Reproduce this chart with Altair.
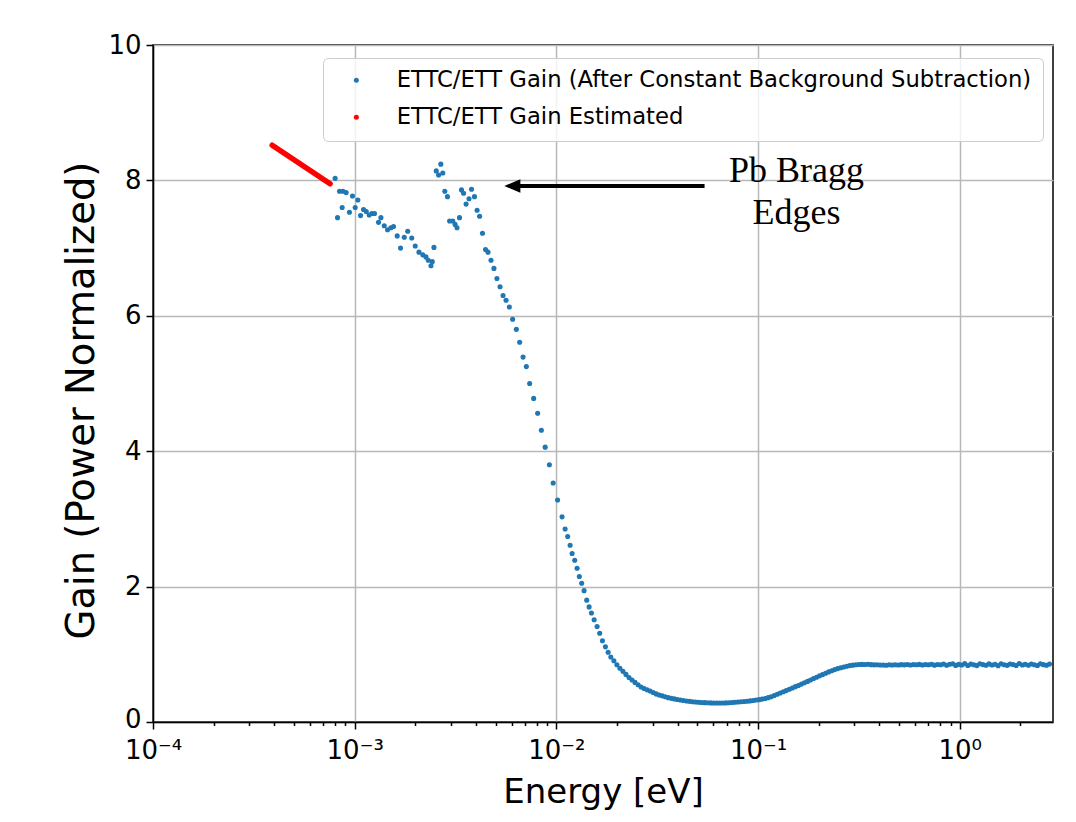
import altair as alt
import pandas as pd

# ---- measured series: ETTC/ETT gain after constant background subtraction ----
energy_ev = [
    8.00e-4, 8.22e-4, 8.41e-4, 8.67e-4, 8.74e-4, 9.07e-4, 9.42e-4, 9.75e-4, 1.006e-3, 1.037e-3,
    1.069e-3, 1.106e-3, 1.141e-3, 1.180e-3, 1.217e-3, 1.254e-3, 1.313e-3, 1.349e-3, 1.401e-3, 1.455e-3,
    1.512e-3, 1.558e-3, 1.625e-3, 1.688e-3, 1.761e-3, 1.832e-3, 1.918e-3, 1.996e-3, 2.083e-3, 2.175e-3,
    2.256e-3, 2.317e-3, 2.389e-3, 2.425e-3, 2.472e-3, 2.538e-3, 2.606e-3, 2.673e-3, 2.734e-3, 2.798e-3,
    2.884e-3, 2.955e-3, 3.065e-3, 3.147e-3, 3.216e-3, 3.309e-3, 3.385e-3, 3.467e-3, 3.568e-3, 3.688e-3,
    3.796e-3, 3.926e-3, 4.045e-3, 4.163e-3, 4.302e-3, 4.453e-3, 4.582e-3, 4.742e-3, 4.902e-3, 5.073e-3,
    5.256e-3, 5.440e-3, 5.630e-3, 5.846e-3, 6.070e-3, 6.332e-3, 6.576e-3, 6.836e-3, 7.099e-3, 7.371e-3,
    7.716e-3, 8.076e-3, 8.426e-3, 8.800e-3, 9.233e-3, 9.641e-3, 1.014e-2, 1.067e-2, 1.105e-2, 1.138e-2,
    1.170e-2, 1.197e-2, 1.233e-2, 1.267e-2, 1.300e-2, 1.335e-2, 1.372e-2, 1.414e-2, 1.453e-2, 1.492e-2,
    1.539e-2, 1.592e-2, 1.640e-2, 1.692e-2, 1.751e-2, 1.806e-2,
    0.01862, 0.01928, 0.01995, 0.02065, 0.02138, 0.02213, 0.02291, 0.02371, 0.02455, 0.02541,
    0.02630, 0.02723, 0.02818, 0.02917, 0.03020, 0.03126, 0.03236, 0.03350, 0.03467, 0.03589,
    0.03715, 0.03846, 0.03981, 0.04121, 0.04266, 0.04416, 0.04571, 0.04732, 0.04898, 0.05070,
    0.05248, 0.05433, 0.05623, 0.05821, 0.06026, 0.06237, 0.06457, 0.06683, 0.06918, 0.07161,
    0.07413, 0.07674, 0.07943, 0.08222, 0.08511, 0.08811, 0.09120, 0.09441, 0.09772, 0.1012,
    0.1047, 0.1084, 0.1122, 0.1161, 0.1202, 0.1245, 0.1288, 0.1334, 0.1380, 0.1429,
    0.1479, 0.1531, 0.1585, 0.1641, 0.1698, 0.1758, 0.1820, 0.1884, 0.1950, 0.2018,
    0.2089, 0.2163, 0.2239, 0.2317, 0.2399, 0.2483, 0.2570, 0.2661, 0.2754, 0.2851,
    0.2951, 0.3055, 0.3162, 0.3273, 0.3388, 0.3508, 0.3631, 0.3758, 0.3890, 0.4027,
    0.4169, 0.4315, 0.4467, 0.4624, 0.4786, 0.4955, 0.5129, 0.5309, 0.5495, 0.5689,
    0.5888, 0.6095, 0.6310, 0.6531, 0.6761, 0.6998, 0.7244, 0.7499, 0.7762, 0.8035,
    0.8318, 0.8610, 0.8913, 0.9226, 0.9550, 0.9886, 1.023, 1.059, 1.097, 1.135,
    1.175, 1.216, 1.259, 1.303, 1.349, 1.396, 1.445, 1.496, 1.549, 1.603,
    1.660, 1.718, 1.778, 1.841, 1.905, 1.972, 2.042, 2.113, 2.188, 2.265,
    2.344, 2.427, 2.512, 2.600, 2.692, 2.786,
]
gain_after_bg = [
    8.03, 7.45, 7.84, 7.60, 7.84, 7.82, 7.53, 7.77, 7.60, 7.71,
    7.48, 7.57, 7.54, 7.49, 7.51, 7.51, 7.38, 7.45, 7.33, 7.27,
    7.30, 7.32, 7.18, 7.00, 7.16, 7.25, 7.15, 7.03, 6.94, 6.90,
    6.87, 6.82, 6.74, 6.80, 7.01, 8.14, 8.08, 8.24, 8.11, 7.84,
    7.76, 7.40, 7.40, 7.35, 7.30, 7.45, 7.86, 7.81, 7.65, 7.73,
    7.87, 7.76, 7.56, 7.47, 7.22, 6.98, 6.94, 6.82, 6.70, 6.55,
    6.43, 6.30, 6.23, 6.13, 5.95, 5.80, 5.61, 5.39, 5.25, 5.00,
    4.78, 4.56, 4.31, 4.06, 3.80, 3.53, 3.28, 3.03, 2.85, 2.74,
    2.61, 2.49, 2.39, 2.27, 2.15, 2.05, 1.94, 1.80, 1.70, 1.61,
    1.51, 1.41, 1.31, 1.20, 1.11, 1.03,
    0.960, 0.905, 0.846, 0.793, 0.748, 0.703, 0.658, 0.620, 0.585, 0.551,
    0.517, 0.495, 0.475, 0.457, 0.435, 0.415, 0.398, 0.386, 0.373, 0.360,
    0.349, 0.341, 0.333, 0.325, 0.317, 0.311, 0.305, 0.300, 0.296, 0.292,
    0.289, 0.286, 0.284, 0.282, 0.281, 0.280, 0.280, 0.281, 0.282, 0.285,
    0.288, 0.291, 0.295, 0.299, 0.303, 0.307, 0.312, 0.318, 0.324, 0.330,
    0.338, 0.347, 0.360, 0.373, 0.391, 0.410, 0.428, 0.446, 0.464, 0.484,
    0.503, 0.522, 0.540, 0.560, 0.580, 0.600, 0.621, 0.643, 0.662, 0.682,
    0.700, 0.720, 0.740, 0.757, 0.774, 0.789, 0.801, 0.813, 0.824, 0.833,
    0.840, 0.845, 0.849, 0.851, 0.850, 0.852, 0.847, 0.844, 0.846, 0.841,
    0.843, 0.839, 0.845, 0.842, 0.846, 0.841, 0.847, 0.844, 0.849, 0.843,
    0.848, 0.845, 0.851, 0.842, 0.849, 0.846, 0.853, 0.840, 0.850, 0.845,
    0.856, 0.838, 0.852, 0.860, 0.836, 0.851, 0.843, 0.862, 0.835, 0.855,
    0.846, 0.833, 0.861, 0.848, 0.838, 0.858, 0.842, 0.853, 0.832, 0.860,
    0.845, 0.837, 0.856, 0.849, 0.835, 0.863, 0.843, 0.852, 0.838, 0.857,
    0.846, 0.834, 0.860, 0.847, 0.839, 0.855,
]

# ---- estimated gain (red) ----
est_energy_ev = [3.90e-4, 7.55e-4]
est_gain = [8.52, 7.95]

# ---- annotation ----
ann_lines = ["Pb Bragg", "Edges"]
ann_energy = [0.1552, 0.1552]
ann_gain = [7.98, 7.35]
arrow_energy = [6.05e-3, 0.0543]
arrow_gain = [7.917, 7.917]

series_names = ["ETTC/ETT Gain (After Constant Background Subtraction)", "ETTC/ETT Gain Estimated"]
series_colors = ["#1f77b4", "#ff0000"]

decades = [1e-4, 1e-3, 1e-2, 1e-1, 1.0]
minor_mult = [2, 3, 4, 5, 6, 7, 8, 9]
x_ticks = sorted(decades + [d * m for d in decades for m in minor_mult if d * m <= 2.9])
y_ticks = [0, 2, 4, 6, 8, 10]

FONT = "DejaVu Sans"
is_decade = "abs(log(datum.value)/LN10 - round(log(datum.value)/LN10)) < 0.001"
exp_ = "round(log(datum.value)/LN10)"
label_expr = (
    f"!({is_decade}) ? '' : {exp_} == -4 ? '10⁻⁴' : {exp_} == -3 ? '10⁻³' : "
    f"{exp_} == -2 ? '10⁻²' : {exp_} == -1 ? '10⁻¹' : '10⁰'"
)

df = pd.DataFrame({"energy": energy_ev, "gain": gain_after_bg, "series": series_names[0]})
df_est = pd.DataFrame({"energy": est_energy_ev, "gain": est_gain})
df_ann = pd.DataFrame({"energy": ann_energy, "gain": ann_gain, "text": ann_lines})
df_arrow = pd.DataFrame({"energy": arrow_energy, "gain": arrow_gain})

x_scale = alt.Scale(type="log", domain=[1e-4, 2.9], nice=False)
y_scale = alt.Scale(domain=[0, 10], nice=False)

x_axis = alt.Axis(
    values=x_ticks, labelExpr=label_expr, title="Energy [eV]",
    titleFontSize=34, titleFont=FONT, titleFontWeight="normal", titleColor="black",
    labelFontSize=26, labelFont=FONT, labelColor="black", labelFlush=False, labelOverlap=False,
    labelPadding=8,
    tickColor="black", tickWidth=1.5,
    tickSize={"condition": {"test": is_decade, "value": 7}, "value": 3.5},
    gridOpacity={"condition": {"test": is_decade, "value": 1}, "value": 0},
    gridColor="#b8b8b8", gridWidth=1.5,
    domainColor="black", domainWidth=1.5,
    titleY=80, titleBaseline="alphabetic",
)
y_axis = alt.Axis(
    values=y_ticks, format="d", title="Gain (Power Normalized)",
    titleFontSize=38.5, titleFont=FONT, titleFontWeight="normal", titleColor="black",
    labelFontSize=26, labelFont=FONT, labelColor="black", labelFlush=False,
    labelOffset={"condition": {"test": "datum.value == 0", "value": -3}, "value": 0},
    tickColor="black", tickWidth=1.5, tickSize=7, labelPadding=5,
    gridColor="#b8b8b8", gridWidth=1.5,
    domainColor="black", domainWidth=1.5,
    titleX=-72, titleY=355, titleAngle=270, titleAlign="center", titleBaseline="middle",
)

points = alt.Chart(df).mark_point(filled=True, size=26, opacity=1, strokeWidth=0).encode(
    x=alt.X("energy:Q", scale=x_scale, axis=x_axis),
    y=alt.Y("gain:Q", scale=y_scale, axis=y_axis),
    color=alt.Color(
        "series:N",
        scale=alt.Scale(domain=series_names, range=series_colors),
        legend=alt.Legend(
            orient="none", legendX=170, legendY=13, title=None,
            labelFontSize=22.7, labelFont=FONT, labelColor="black", labelLimit=1000,
            symbolType="circle", symbolSize=25, symbolStrokeWidth=0,
            symbolOffset=11, labelOffset=29, padding=11, rowPadding=13,
            strokeColor="#cccccc", fillColor="rgba(255,255,255,0.8)", cornerRadius=5,
        ),
    ),
)

est_line = alt.Chart(df_est).mark_line(strokeWidth=5.5, strokeCap="round", color="#ff0000").encode(
    x=alt.X("energy:Q", scale=x_scale),
    y=alt.Y("gain:Q", scale=y_scale),
)

arrow_line = alt.Chart(df_arrow).mark_line(strokeWidth=4, color="black").encode(
    x=alt.X("energy:Q", scale=x_scale),
    y=alt.Y("gain:Q", scale=y_scale),
)
arrow_head = alt.Chart(df_arrow.iloc[[0]]).mark_point(
    shape="M -1 0 L 1 -0.85 L 1 0.85 Z", filled=True, size=256, color="black", opacity=1, strokeWidth=0
).encode(
    x=alt.X("energy:Q", scale=x_scale),
    y=alt.Y("gain:Q", scale=y_scale),
)
ann_text = alt.Chart(df_ann).mark_text(
    font="Liberation Serif", fontSize=36, color="black", align="center", baseline="alphabetic"
).encode(
    x=alt.X("energy:Q", scale=x_scale),
    y=alt.Y("gain:Q", scale=y_scale),
    text="text:N",
)

chart = alt.layer(points, est_line, arrow_line, arrow_head, ann_text).properties(
    width=900, height=677,
    padding={"left": 145, "top": 37, "right": 10, "bottom": 90},
    autosize=alt.AutoSizeParams(type="none"),
    background="white",
).configure_view(stroke="black", strokeWidth=1.5)

chart.save("out.html", embed_options={"renderer": "svg", "actions": False})
